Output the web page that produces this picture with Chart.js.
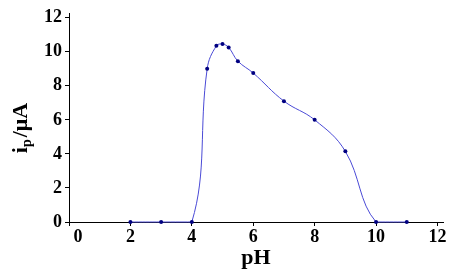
<!DOCTYPE html>
<html>
<head>
<meta charset="utf-8">
<script src="https://cdn.jsdelivr.net/npm/chart.js@4/dist/chart.umd.min.js"></script>
<style>
html,body{margin:0;padding:0;background:#fff;}
#wrap{width:455px;height:272px;position:relative;}
</style>
</head>
<body>
<div id="wrap"><canvas id="c" width="455" height="272"></canvas></div>
<script>
const pH = [2, 3, 4, 4.5, 4.8, 5, 5.2, 5.5, 6, 7, 8, 9, 10, 11];
const ipValues = [0, 0, 0, 9.0, 10.35, 10.45, 10.25, 9.45, 8.75, 7.1, 6.0, 4.15, 0, 0];
const xTicks = [0, 2, 4, 6, 8, 10, 12];
const yTicks = [0, 2, 4, 6, 8, 10, 12];
const xTitle = 'pH';
const yTitleMain = 'i';
const yTitleSub = 'p';
const yTitleRest = '/\u03BCA';

const serif = '"Liberation Serif", "Times New Roman", serif';

const titlePlugin = {
  id: 'titles',
  afterDraw(chart) {
    const ctx = chart.ctx;
    ctx.save();
    ctx.fillStyle = '#000';
    // x title
    ctx.font = 'bold 22px ' + serif;
    ctx.textAlign = 'center';
    ctx.textBaseline = 'alphabetic';
    ctx.fillText(xTitle, 256, 264);
    // y title (rotated)
    ctx.translate(27, 128);
    ctx.rotate(-Math.PI / 2);
    ctx.textAlign = 'left';
    const big = 'bold 22px ' + serif;
    const small = 'bold 14px ' + serif;
    ctx.font = big;
    const w1 = ctx.measureText(yTitleMain).width;
    ctx.font = small;
    const w2 = ctx.measureText(yTitleSub).width;
    ctx.font = big;
    const w3 = ctx.measureText(yTitleRest).width;
    const total = w1 + w2 + 2 + w3;
    let x = -total / 2;
    ctx.font = big;
    ctx.fillText(yTitleMain, x, 0);
    x += w1;
    ctx.font = small;
    ctx.fillText(yTitleSub, x, 4);
    x += w2 + 2;
    ctx.font = big;
    ctx.fillText(yTitleRest, x, 0);
    ctx.restore();
  }
};

new Chart(document.getElementById('c'), {
  type: 'scatter',
  data: {
    datasets: [{
      data: pH.map((v, i) => ({ x: v, y: ipValues[i] })),
      showLine: true,
      borderColor: '#4a4ad6',
      borderWidth: 1,
      tension: 0.4,
      pointRadius: 2,
      pointBackgroundColor: '#000080',
      pointBorderColor: '#000080',
      pointBorderWidth: 0,
      clip: false
    }]
  },
  options: {
    responsive: false,
    animation: false,
    devicePixelRatio: 1,
    layout: { padding: { left: 0, right: 12, top: 13, bottom: 0 } },
    plugins: { legend: { display: false }, tooltip: { enabled: false } },
    scales: {
      x: {
        type: 'linear',
        min: 0,
        max: 12.18,
        afterBuildTicks: s => { s.ticks = xTicks.map(v => ({ value: v })); },
        afterFit: s => { s.height = 50; },
        grid: { drawOnChartArea: false, drawTicks: true, tickLength: 4, color: '#000' },
        border: { color: '#000', width: 1 },
        ticks: {
          color: '#000',
          padding: 1,
          maxRotation: 0,
          autoSkip: false,
          font: { family: serif, size: 18, weight: 'bold' },
          callback: v => (v === 0 ? '    0' : String(v))
        }
      },
      y: {
        type: 'linear',
        min: 0,
        max: 12.23,
        afterBuildTicks: s => { s.ticks = yTicks.map(v => ({ value: v })); },
        afterFit: s => { s.width = 69; },
        grid: { drawOnChartArea: false, drawTicks: true, tickLength: 4, color: '#000' },
        border: { color: '#000', width: 1 },
        ticks: {
          color: '#000',
          padding: 3,
          autoSkip: false,
          font: { family: serif, size: 18, weight: 'bold' },
          callback: v => String(v)
        }
      }
    }
  },
  plugins: [titlePlugin]
});
</script>
</body>
</html>
